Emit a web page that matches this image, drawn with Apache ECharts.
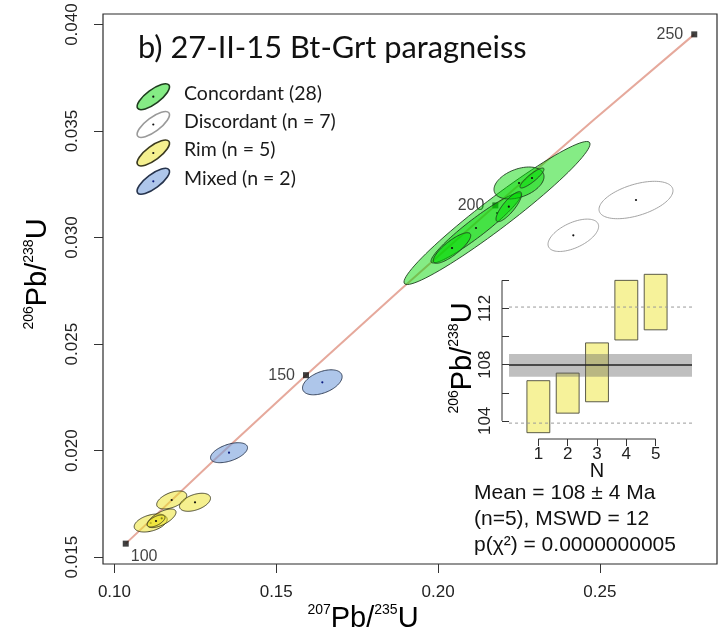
<!DOCTYPE html>
<html>
<head>
<meta charset="utf-8">
<script src="https://cdn.jsdelivr.net/npm/echarts@6/dist/echarts.min.js"></script>
<style>
html, body { margin: 0; padding: 0; background: #ffffff; }
#chart { width: 726px; height: 636px; }
</style>
</head>
<body>
<div id="chart"></div>
<script>
// Concordia curve: ages (Ma) and the matching 207Pb/235U, 206Pb/238U ratios
const concordiaAges = [100, 125, 150, 175, 200, 225, 250];
const concordiaX = [0.103498, 0.131005, 0.159196, 0.188094, 0.217708, 0.248060, 0.279170];
const concordiaY = [0.015633, 0.019580, 0.023542, 0.027519, 0.031511, 0.035519, 0.039541];
const labelledAges = [100, 150, 200, 250];

// Error ellipses: [207Pb/235U, 206Pb/238U, s(x), s(y), rho]
const concordant = [
  [0.21822, 0.031155, 0.02874, 0.003357, 0.965],
  [0.21173, 0.030451, 0.01391, 0.001643, 0.947],
  [0.22502, 0.032563, 0.00773, 0.000751, 0.40],
  [0.22187, 0.031451, 0.00396, 0.000704, 0.82],
  [0.20432, 0.029512, 0.00578, 0.000718, 0.82],
  [0.22903, 0.032798, 0.00371, 0.000469, 0.88]
];
const discordant = [
  [0.24180, 0.030108, 0.00782, 0.000760, 0.55],
  [0.26117, 0.031765, 0.01143, 0.000878, 0.50]
];
const rim = [
  [0.11770, 0.017682, 0.00464, 0.000423, 0.50],
  [0.12490, 0.017574, 0.00479, 0.000423, 0.45],
  [0.11121, 0.016602, 0.00510, 0.000423, 0.40],
  [0.11461, 0.016822, 0.00442, 0.000437, 0.65],
  [0.11285, 0.016696, 0.00278, 0.000282, 0.60]
];
const mixed = [
  [0.13541, 0.019902, 0.00572, 0.000469, 0.50],
  [0.16424, 0.023207, 0.00612, 0.000587, 0.45]
];

// Axis ticks of the concordia panel
const xTicks = [0.10, 0.15, 0.20, 0.25];
const yTicks = [0.015, 0.020, 0.025, 0.030, 0.035, 0.040];

// Weighted mean of the rim ages (Ma)
const rimN = [1, 2, 3, 4, 5];
const rimLow = [103.16, 104.55, 105.36, 109.76, 110.48];
const rimHigh = [106.86, 107.40, 109.55, 114.00, 114.43];
const meanAge = 107.98;
const meanBand = [107.14, 108.76];
const dashedLimits = [103.84, 112.10];
const insetTicks = [104, 106, 108, 110, 112, 114];
const insetLabels = [104, 108, 112];

// Legend and statistics text
const legendNames = ['Concordant (28)', 'Discordant (n = 7)', 'Rim (n = 5)', 'Mixed (n = 2)'];
const statLines = ['Mean = 108 \u00b1 4 Ma', '(n=5), MSWD = 12', 'p(\u03c7\u00b2) = 0.0000000005'];

const X_MIN = 0.09647, X_MAX = 0.28620, Y_MIN = 0.014677, Y_MAX = 0.040497;
const IN_X_MIN = -0.24, IN_X_MAX = 6.24, IN_Y_MIN = 102.71, IN_Y_MAX = 114.88;

const SANS = "'Liberation Sans', Arial, sans-serif";
const HUMAN = "Lato, 'Open Sans', sans-serif";

const styles = {
  concordant: { fill: 'rgba(0,215,0,0.48)', stroke: '#1f3d1f', dot: '#111' },
  discordant: { fill: 'rgba(255,255,255,0.6)', stroke: '#9a9a9a', dot: '#111' },
  rim:        { fill: 'rgba(236,226,40,0.52)', stroke: '#3b3a20', dot: '#111' },
  mixed:      { fill: 'rgba(120,160,220,0.60)', stroke: '#27344d', dot: '#0a1a80' }
};

function ellipseSeries(name, list, st) {
  return {
    name: name,
    type: 'custom',
    xAxisIndex: 0, yAxisIndex: 0,
    clip: true,
    z: 3,
    data: list.map(e => [e[0], e[1]]),
    renderItem: function (params, api) {
      const e = list[params.dataIndex];
      const r2 = Math.sqrt(1 - e[4] * e[4]);
      const pts = [];
      for (let k = 0; k < 90; k++) {
        const t = k / 90 * 2 * Math.PI;
        pts.push(api.coord([e[0] + e[2] * Math.cos(t),
                            e[1] + e[3] * (e[4] * Math.cos(t) + r2 * Math.sin(t))]));
      }
      const c = api.coord([e[0], e[1]]);
      return {
        type: 'group',
        children: [
          { type: 'polygon', shape: { points: pts }, style: { fill: st.fill, stroke: st.stroke, lineWidth: 0.9 } },
          { type: 'circle', shape: { cx: c[0], cy: c[1], r: 1.1 }, style: { fill: st.dot } }
        ]
      };
    }
  };
}

const supRich = (s, b) => ({
  s: { fontSize: s, fontFamily: SANS, color: '#111', verticalAlign: 'top', lineHeight: b * 1.05 },
  b: { fontSize: b, fontFamily: SANS, color: '#111', verticalAlign: 'bottom', lineHeight: b * 1.05 }
});

const graphics = [
  { type: 'text', x: 138, y: 48, style: { text: 'b) 27-II-15 Bt-Grt paragneiss', font: '30.8px ' + HUMAN, fill: '#111', verticalAlign: 'middle' } },
  { type: 'text', x: 363, y: 618, style: { text: '{s|207}{b|Pb/}{s|235}{b|U}', rich: supRich(14, 29), align: 'center', verticalAlign: 'middle' } },
  { type: 'text', x: 37, y: 274, rotation: Math.PI / 2, style: { text: '{s|206}{b|Pb/}{s|238}{b|U}', rich: supRich(14, 29), align: 'center', verticalAlign: 'middle' } },
  { type: 'text', x: 462, y: 358, rotation: Math.PI / 2, style: { text: '{s|206}{b|Pb/}{s|238}{b|U}', rich: supRich(14, 29), align: 'center', verticalAlign: 'middle' } },
  { type: 'text', x: 597, y: 471, style: { text: 'N', font: '20px ' + SANS, fill: '#111', align: 'center', verticalAlign: 'middle' } }
];
const legendKeys = ['concordant', 'discordant', 'rim', 'mixed'];
const legendRowY = [96.7, 124.5, 153, 181.3];
legendKeys.forEach((k, i) => {
  const st = styles[k];
  graphics.push({ type: 'ellipse', x: 153.3, y: legendRowY[i], rotation: 0.64,
    shape: { cx: 0, cy: 0, rx: 19.5, ry: 7 },
    style: { fill: st.fill, stroke: st.stroke, lineWidth: 1.6 } });
  graphics.push({ type: 'circle', x: 153.3, y: legendRowY[i], shape: { cx: 0, cy: 0, r: 1.1 }, style: { fill: st.dot } });
  graphics.push({ type: 'text', x: 184, y: legendRowY[i] - 3, style: { text: legendNames[i], font: '19.5px ' + HUMAN, fill: '#1a1a1a', verticalAlign: 'middle' } });
});
statLines.forEach((t, i) => {
  graphics.push({ type: 'text', x: 474, y: 493 + i * 26, style: { text: t, font: '21px ' + SANS, fill: '#111', verticalAlign: 'middle' } });
});

const tickStyle = { lineStyle: { color: '#333', width: 1 } };

const option = {
  animation: false,
  backgroundColor: '#ffffff',
  grid: [
    { left: 103, top: 14, right: 9, bottom: 72, show: true, borderColor: '#2b2b2b', borderWidth: 1.2, backgroundColor: 'transparent' },
    { left: 502, top: 268, right: 34, bottom: 197 }
  ],
  xAxis: [
    {
      type: 'value', gridIndex: 0, min: X_MIN, max: X_MAX,
      axisLine: { show: false }, splitLine: { show: false },
      axisTick: { show: true, length: 9, customValues: xTicks, ...tickStyle },
      axisLabel: { customValues: xTicks, formatter: v => v.toFixed(2), fontFamily: SANS, fontSize: 17, color: '#222', margin: 20 }
    },
    {
      type: 'value', gridIndex: 1, min: IN_X_MIN, max: IN_X_MAX,
      axisLine: { show: false }, splitLine: { show: false },
      axisTick: { show: true, length: 7, customValues: rimN, ...tickStyle },
      axisLabel: { customValues: rimN, formatter: v => String(v), fontFamily: SANS, fontSize: 17, color: '#222', margin: 7 }
    }
  ],
  yAxis: [
    {
      type: 'value', gridIndex: 0, min: Y_MIN, max: Y_MAX,
      axisLine: { show: false }, splitLine: { show: false },
      axisTick: { show: true, length: 9, customValues: yTicks, ...tickStyle },
      axisLabel: { customValues: yTicks, formatter: v => v.toFixed(3), rotate: 90, fontFamily: SANS, fontSize: 17, color: '#222', margin: 22 }
    },
    {
      type: 'value', gridIndex: 1, min: IN_Y_MIN, max: IN_Y_MAX,
      axisLine: { show: false }, splitLine: { show: false },
      axisTick: { show: true, length: 7, customValues: insetTicks, ...tickStyle },
      axisLabel: { customValues: insetLabels, formatter: v => String(v), rotate: 90, fontFamily: SANS, fontSize: 17, color: '#222', margin: 8 }
    }
  ],
  graphic: graphics,
  series: [
    {
      name: 'concordia', type: 'line', xAxisIndex: 0, yAxisIndex: 0, z: 2,
      data: concordiaX.map((x, i) => [x, concordiaY[i]]),
      symbol: 'none', smooth: false,
      lineStyle: { color: '#e6a99c', width: 2 }
    },
    {
      name: 'ageMarks', type: 'scatter', xAxisIndex: 0, yAxisIndex: 0, z: 2,
      symbol: 'rect', symbolSize: 6,
      itemStyle: { color: '#111' },
      data: labelledAges.map(a => {
        const i = concordiaAges.indexOf(a);
        const below = a === concordiaAges[0];
        return {
          value: [concordiaX[i], concordiaY[i]],
          label: below
            ? { show: true, position: [8, 8], align: 'left', verticalAlign: 'top', formatter: String(a), fontFamily: SANS, fontSize: 16, color: '#111' }
            : { show: true, position: 'left', distance: 8, formatter: String(a), fontFamily: SANS, fontSize: 16, color: '#111' }
        };
      })
    },
    ellipseSeries('Discordant', discordant, styles.discordant),
    ellipseSeries('Concordant', concordant, styles.concordant),
    ellipseSeries('Rim', rim, styles.rim),
    ellipseSeries('Mixed', mixed, styles.mixed),
    {
      name: 'rimAges', type: 'custom', xAxisIndex: 1, yAxisIndex: 1, z: 3,
      data: rimN.map((n, i) => [n, rimLow[i], rimHigh[i]]),
      renderItem: function (params, api) {
        const n = api.value(0), lo = api.value(1), hi = api.value(2);
        const p1 = api.coord([n - 0.39, hi]);
        const p2 = api.coord([n + 0.39, lo]);
        return { type: 'rect', shape: { x: p1[0], y: p1[1], width: p2[0] - p1[0], height: p2[1] - p1[1] },
          style: { fill: '#f6f29a', stroke: '#4a4a3a', lineWidth: 0.9 } };
      }
    },
    {
      name: 'meanBand', type: 'custom', xAxisIndex: 1, yAxisIndex: 1, z: 4,
      data: [[0, meanAge]],
      renderItem: function (params, api) {
        const a = api.coord([0, meanBand[1]]);
        const b = api.coord([IN_X_MAX, meanBand[0]]);
        const m1 = api.coord([0, meanAge]);
        const m2 = api.coord([IN_X_MAX, meanAge]);
        const children = [
          { type: 'rect', shape: { x: a[0], y: a[1], width: b[0] - a[0], height: b[1] - a[1] }, style: { fill: 'rgba(95,95,95,0.40)' } },
          { type: 'line', shape: { x1: m1[0], y1: m1[1], x2: m2[0], y2: m2[1] }, style: { stroke: '#222', lineWidth: 1.5 } }
        ];
        dashedLimits.forEach(v => {
          const d1 = api.coord([0, v]), d2 = api.coord([IN_X_MAX, v]);
          children.push({ type: 'line', shape: { x1: d1[0], y1: d1[1], x2: d2[0], y2: d2[1] }, style: { stroke: '#9a9a9a', lineWidth: 1, lineDash: [3, 3] } });
        });
        return { type: 'group', children: children };
      }
    },
    {
      name: 'insetAxes', type: 'custom', xAxisIndex: 1, yAxisIndex: 1, z: 4,
      data: [[IN_X_MIN, IN_Y_MIN]],
      renderItem: function (params, api) {
        const y1 = api.coord([IN_X_MIN, insetTicks[0]]);
        const y2 = api.coord([IN_X_MIN, insetTicks[insetTicks.length - 1]]);
        const x1 = api.coord([rimN[0], IN_Y_MIN]);
        const x2 = api.coord([rimN[rimN.length - 1], IN_Y_MIN]);
        return { type: 'group', children: [
          { type: 'line', shape: { x1: y1[0], y1: y1[1], x2: y2[0], y2: y2[1] }, style: { stroke: '#333', lineWidth: 1 } },
          { type: 'line', shape: { x1: x1[0], y1: x1[1], x2: x2[0], y2: x2[1] }, style: { stroke: '#333', lineWidth: 1 } }
        ] };
      }
    }
  ]
};

const chart = echarts.init(document.getElementById('chart'));
chart.setOption(option);
</script>
</body>
</html>
